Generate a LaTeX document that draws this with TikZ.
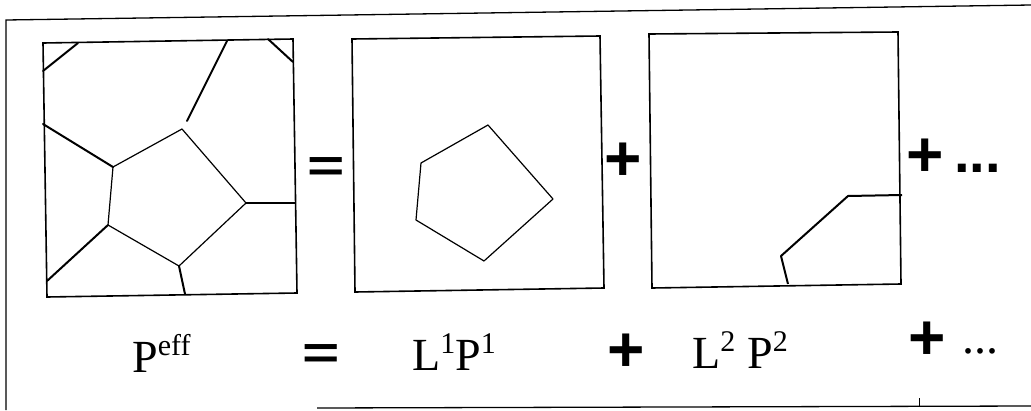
\documentclass[tikz,border=0pt]{standalone}
\usepackage{graphicx}
\usepackage{fontspec}
\setmainfont{Liberation Serif}
\newfontfamily\opfont{Liberation Sans}
\newcommand{\sups}[1]{\raisebox{17pt}{\fontsize{30}{30}\selectfont #1}}
\newcommand{\flateq}{\scalebox{1}[0.72]{=}}
\begin{document}
\begin{tikzpicture}[x=1pt,y=-1pt,
  frameline/.style={line width=1.3pt},
  boxline/.style={line width=1.6pt, line join=miter},
  grain/.style={line width=1.2pt, line join=round},
  edgeline/.style={line width=2pt, line cap=round},
  maintext/.style={font=\fontsize{46}{46}\selectfont, inner sep=0pt, anchor=base west},
  optext/.style={font=\opfont\bfseries\fontsize{64}{64}\selectfont, inner sep=0pt, anchor=base},
  dotstop/.style={font=\opfont\bfseries\fontsize{56}{56}\selectfont, inner sep=0pt, anchor=base west},
  dotsbot/.style={font=\fontsize{48}{48}\selectfont, inner sep=0pt, anchor=base west}]
\useasboundingbox (0,0) rectangle (1031,410);

% outer frame
\coordinate (fTL) at (6,20);
\coordinate (fTR) at (1031,5);
\coordinate (fBL) at (6,410);
\coordinate (fB1) at (317,408);
\coordinate (fB2) at (1031,406);
\coordinate (tk1) at (919,398);
\coordinate (tk2) at (919,407);
\draw[frameline] (fBL) -- (fTL) -- (fTR);
\draw[frameline] (fB1) -- (fB2);
\draw[line width=0.8pt] (tk1) -- (tk2);

% left square
\coordinate (a1) at (43,43);
\coordinate (a2) at (293,39);
\coordinate (a3) at (297,293);
\coordinate (a4) at (47,297);
\draw[boxline] (a1) -- (a2) -- (a3) -- (a4) -- cycle;
\coordinate (c1) at (78,43);   \coordinate (c2) at (43,71);
\coordinate (c3) at (268,39);  \coordinate (c4) at (293,62);
\coordinate (c5) at (227,41);  \coordinate (c6) at (187,121);
\coordinate (c7) at (43,124);
\coordinate (c8) at (296,203);
\coordinate (c9) at (47,281);
\coordinate (c10) at (185,294);
\coordinate (p1) at (113,167);
\coordinate (p2) at (182,129);
\coordinate (p3) at (246,203);
\coordinate (p4) at (179,266);
\coordinate (p5) at (108,225);
\draw[edgeline] (c1) -- (c2);
\draw[edgeline] (c3) -- (c4);
\draw[edgeline] (c5) -- (c6);
\draw[edgeline] (c7) -- (p1);
\draw[grain] (p1) -- (p2) -- (p3) -- (p4) -- (p5) -- cycle;
\draw[grain] (p3) -- (c8);
\draw[edgeline] (p5) -- (c9);
\draw[edgeline] (p4) -- (c10);

% equals (top)
\node[optext] (eqtop) at (326,181) {\flateq};

% middle square
\coordinate (b1) at (352,39);
\coordinate (b2) at (600,36);
\coordinate (b3) at (604,288);
\coordinate (b4) at (355,292);
\draw[boxline] (b1) -- (b2) -- (b3) -- (b4) -- cycle;
\coordinate (q1) at (421,163);
\coordinate (q2) at (488,125);
\coordinate (q3) at (553,199);
\coordinate (q4) at (484,261);
\coordinate (q5) at (416,220);
\draw[grain] (q1) -- (q2) -- (q3) -- (q4) -- (q5) -- cycle;

% plus (top middle)
\node[optext] (pltop1) at (623,180) {+};

% right square
\coordinate (r1) at (649,34);
\coordinate (r2) at (898,32);
\coordinate (r3) at (901,284);
\coordinate (r4) at (652,288);
\draw[boxline] (r1) -- (r2) -- (r3) -- (r4) -- cycle;
\coordinate (s1) at (788,284);
\coordinate (s2) at (781,256);
\coordinate (s3) at (848,196);
\coordinate (s4) at (902,195);
\draw[edgeline, line cap=butt, line join=round] (s1) -- (s2) -- (s3) -- (s4);

% plus and dots (top right)
\node[optext] (pltop2) at (925,176) {+};
\node[dotstop] (dtop) at (954,172) {...};

% bottom equation
\node[maintext] (peff) at (132,372) {P\sups{eff}};
\node[optext] (eqbot) at (321,368) {\flateq};
\node[maintext] (l1p1) at (412,370) {L\sups{1}P\sups{1}};
\node[optext] (plbot1) at (626,371) {+};
\node[maintext] (l2p2) at (692,368) {L\sups{2}\hspace{12pt}P\sups{2}};
\node[optext] (plbot2) at (927,359) {+};
\node[dotsbot] (dbot) at (962,353) {...};
\end{tikzpicture}
\end{document}
